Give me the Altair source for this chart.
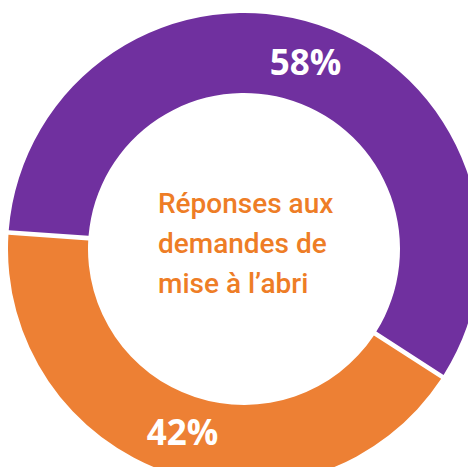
import math
import altair as alt
import pandas as pd

categories = ["Groupe A", "Groupe B"]
values = [58, 42]
labels = ["58%", "42%"]
colors = ["#70309F", "#ED8034"]
center_lines = ["Réponses aux", "demandes de", "mise à l’abri"]

df = pd.DataFrame({
    "category": categories,
    "value": values,
    "label": labels,
    "rank": list(range(len(categories))),
})

start = math.radians(274.0)
theta_scale = alt.Scale(range=[start, start + 2 * math.pi])
cx, cy = 236, 241

base = alt.Chart(df).encode(
    theta=alt.Theta("value:Q", stack=True, scale=theta_scale),
    order=alt.Order("rank:Q"),
)

arcs = base.mark_arc(
    outerRadius=236, innerRadius=156, padAngle=0.016
).encode(
    color=alt.Color(
        "category:N",
        scale=alt.Scale(domain=categories, range=colors),
        legend=None,
    ),
    x=alt.value(cx),
    y=alt.value(cy),
)

pct = base.mark_text(
    radius=195,
    font="Open Sans",
    fontWeight="bold",
    fontSize=35,
    color="white",
    baseline="middle",
    align="center",
).encode(
    text="label:N",
    x=alt.value(cx),
    y=alt.value(cy),
)

center_df = pd.DataFrame({"txt": ["\n".join(center_lines)]})
center = alt.Chart(center_df).mark_text(
    font="Roboto",
    fontWeight=500,
    fontSize=28,
    color="#EE7D26",
    align="left",
    baseline="alphabetic",
    lineBreak="\n",
    lineHeight=40,
).encode(
    text="txt:N",
    x=alt.value(150),
    y=alt.value(205),
)

chart = alt.layer(arcs, pct, center).properties(
    width=460, height=459, padding=0, autosize=alt.AutoSizeParams(type="none")
).configure_view(stroke=None)

chart.save("out.html", embed_options={"renderer": "svg", "actions": False})
